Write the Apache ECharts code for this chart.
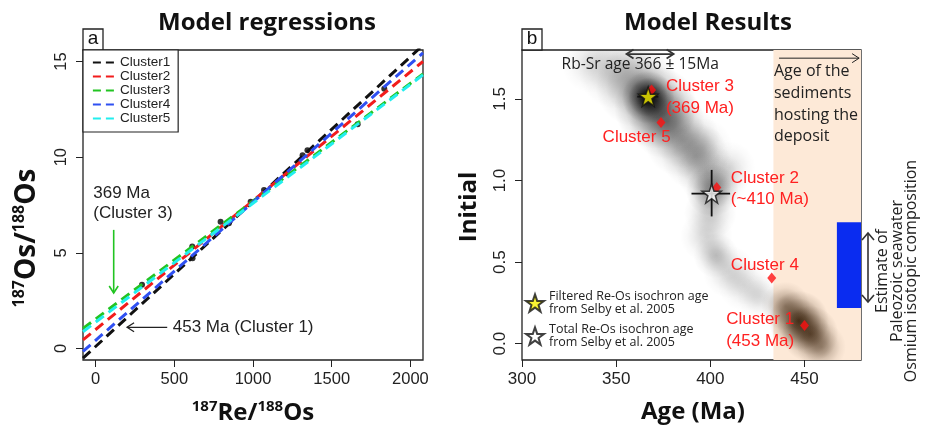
<!DOCTYPE html>
<html>
<head>
<meta charset="utf-8">
<script src="https://cdn.jsdelivr.net/npm/echarts@6/dist/echarts.min.js"></script>
<style>
  html, body { margin: 0; padding: 0; background: #fff; }
  #main { width: 927px; height: 427px; }
</style>
</head>
<body>
<div id="main"></div>
<script>
//---------------数据（图 a）---------------
const clusterNames = ['Cluster1', 'Cluster2', 'Cluster3', 'Cluster4', 'Cluster5']
const clusterColors = ['#111111', '#f21c1c', '#22c422', '#2f50f2', '#22eeee']
// 每条等时线在左右两端的 [Re/Os, Os/Os]
const isoLines = [
  [[-80, -0.5], [2080, 15.85]],
  [[-80, 0.45], [2080, 15.0]],
  [[-80, 1.05], [2080, 14.35]],
  [[-80, -0.15], [2080, 15.45]],
  [[-80, 0.88], [2080, 14.3]]
]
const reOsPoints = [[295, 3.33], [614, 5.33], [616, 4.72], [794, 6.63], [847, 6.55], [985, 7.67],
  [1070, 8.28], [1219, 9.15], [1315, 10.1], [1346, 10.36], [1665, 11.72], [1834, 13.58]]
const xTicksA = [0, 500, 1000, 1500, 2000]
const yTicksA = [0, 5, 10, 15]

//---------------数据（图 b）---------------
const clusterAges = [450, 403.4, 368.8, 432.6, 373.8]
const clusterInitials = [0.112, 0.957, 1.555, 0.402, 1.355]
// [age, initial, ageLo, ageHi, initLo, initHi]
const filteredSelby = [[367, 1.514, 361.2, 372.4, 1.50, 1.53]]
const totalSelby = [[400.7, 0.92, 390, 410.5, 0.78, 1.065]]
const rbSrAge = [355.5, 380.5]
const sedimentAge = [433.5, 480]
const seawaterOs = [0.218, 0.745]
// 密度云 [age, initial, 带宽(Ma), 强度]
const densityGray = [
  [367, 1.51, 14, 0.95], [371, 1.45, 22, 0.55], [361, 1.58, 22, 0.35], [377, 1.36, 20, 0.4],
  [350, 1.67, 20, 0.2], [337, 1.72, 16, 0.12], [385, 1.25, 20, 0.3], [392, 1.15, 18, 0.25],
  [398, 1.05, 16, 0.22], [401, 0.94, 14, 0.45], [410, 1.08, 14, 0.12], [400, 0.80, 14, 0.2],
  [398, 0.66, 14, 0.16], [403, 0.54, 12, 0.25], [410, 0.44, 14, 0.16], [418, 0.36, 14, 0.14],
  [426, 0.29, 12, 0.14], [396, 1.20, 16, 0.14], [406, 1.0, 14, 0.12]
]
const densityBrown = [
  [447, 0.14, 16, 0.85], [453, 0.06, 15, 0.7], [440, 0.23, 13, 0.45], [459, -0.02, 13, 0.4]
]
const xTicksB = [300, 350, 400, 450]
const yTicksB = [0, 0.5, 1, 1.5]

const SANS = '"Liberation Sans", Arial, sans-serif'
const MYRIAD = '"Open Sans", sans-serif'
const STAR = 'path://M50,2 L61.5,36 L97,36 L68.5,57.5 L79,92 L50,71 L21,92 L31.5,57.5 L3,36 L38.5,36 Z'

function blobFill(a, rgb) {
  return {
    type: 'radial', x: 0.5, y: 0.5, r: 0.5,
    colorStops: [
      { offset: 0, color: `rgba(${rgb},${a})` },
      { offset: 0.25, color: `rgba(${rgb},${a * 0.8})` },
      { offset: 0.5, color: `rgba(${rgb},${a * 0.45})` },
      { offset: 0.75, color: `rgba(${rgb},${a * 0.15})` },
      { offset: 1, color: `rgba(${rgb},0)` }
    ]
  }
}
function densitySeries(data, rgb) {
  return {
    type: 'custom', xAxisIndex: 1, yAxisIndex: 1, clip: true, silent: true, z: 2,
    data: data,
    renderItem: (params, api) => {
      const c = api.coord([api.value(0), api.value(1)])
      const r = api.size([api.value(2), 0])[0]
      return { type: 'circle', shape: { cx: c[0], cy: c[1], r: r }, style: { fill: blobFill(api.value(3), rgb) } }
    }
  }
}
// 箭头（像素坐标）
function arrowHead(tip, from, len, half) {
  const dx = tip[0] - from[0], dy = tip[1] - from[1]
  const d = Math.hypot(dx, dy), ux = dx / d, uy = dy / d
  const bx = tip[0] - ux * len, by = tip[1] - uy * len
  return [[bx - uy * half, by + ux * half], tip, [bx + uy * half, by - ux * half]]
}
function arrow(p0, p1, color, width, both) {
  const els = [
    { type: 'line', shape: { x1: p0[0], y1: p0[1], x2: p1[0], y2: p1[1] }, style: { stroke: color, lineWidth: width } },
    { type: 'polyline', shape: { points: arrowHead(p1, p0, 7, 4.5) }, style: { stroke: color, lineWidth: width, fill: null } }
  ]
  if (both) els.push({ type: 'polyline', shape: { points: arrowHead(p0, p1, 7, 4.5) }, style: { stroke: color, lineWidth: width, fill: null } })
  return els
}
function txt(p, text, font, color, align) {
  return { type: 'text', x: p[0], y: p[1], style: { text: text, font: font, fill: color, align: align || 'left', verticalAlign: 'middle' } }
}
function axisCommon(ticks, size, extra, label) {
  return Object.assign({
    axisLine: { show: false, onZero: false }, splitLine: { show: false },
    axisTick: { show: true, inside: false, length: 7, customValues: ticks, lineStyle: { color: '#222' } },
    axisLabel: Object.assign({ customValues: ticks, margin: 11, fontSize: size, color: '#222', formatter: v => String(v) }, label)
  }, extra)
}

let myChart = echarts.init(document.querySelector('#main'))
let option = {
  animation: false,
  textStyle: { fontFamily: SANS },
  grid: [
    { left: 83, top: 50, width: 340, height: 310, show: true, borderColor: '#222', borderWidth: 1.3, backgroundColor: '#fff' },
    { left: 522, top: 50, width: 339, height: 310, show: true, borderColor: '#222', borderWidth: 1.3, backgroundColor: '#fff' }
  ],
  xAxis: [
    axisCommon(xTicksA, 16.5, { type: 'value', gridIndex: 0, min: -80, max: 2080 }),
    axisCommon(xTicksB, 17, { type: 'value', gridIndex: 1, min: 300, max: 480 })
  ],
  yAxis: [
    axisCommon(yTicksA, 16.5, { type: 'value', gridIndex: 0, min: -0.6, max: 15.6 }, { rotate: 90, margin: 13 }),
    axisCommon(yTicksB, 17, { type: 'value', gridIndex: 1, min: -0.1, max: 1.8 }, { rotate: 90, margin: 13, formatter: v => v.toFixed(1) })
  ],
  legend: [
    {
      data: clusterNames, orient: 'vertical', left: 83, top: 50,
      padding: [5.5, 8, 6.5, 9], itemGap: 0, itemWidth: 22, itemHeight: 13,
      borderColor: '#222', borderWidth: 1.2, backgroundColor: '#fff',
      itemStyle: { opacity: 0 },
      lineStyle: { width: 1.8, type: [8, 5] },
      textStyle: { fontFamily: SANS, fontSize: 13.5, color: '#222', lineHeight: 13 },
      selectedMode: false
    },
    {
      data: ['Filtered Re-Os isochron age\nfrom Selby et al. 2005', 'Total Re-Os isochron age\nfrom Selby et al. 2005'],
      orient: 'vertical', left: 525, top: 290, padding: 0, itemGap: 7, itemWidth: 18, itemHeight: 18,
      textStyle: { fontFamily: MYRIAD, fontSize: 12.5, color: '#222', lineHeight: 13 },
      selectedMode: false
    }
  ],
  series: [
    // ---------- 图 a ----------
    {
      type: 'scatter', xAxisIndex: 0, yAxisIndex: 0, data: reOsPoints, symbolSize: 6,
      itemStyle: { color: '#000' }, z: 2, silent: true
    },
    ...clusterNames.map((name, i) => ({
      name: name, type: 'line', xAxisIndex: 0, yAxisIndex: 0, data: isoLines[i],
      symbol: 'none', color: clusterColors[i], z: 3, silent: true,
      lineStyle: { color: clusterColors[i], width: 3, type: [10, 6] }
    })),
    {
      type: 'custom', xAxisIndex: 0, yAxisIndex: 0, data: [0], z: 5, silent: true,
      renderItem: (params, api) => ({
        type: 'group',
        children: [
          txt(api.coord([-15, 8.1]), '369 Ma', '17px ' + SANS, '#222'),
          txt(api.coord([-15, 7.05]), '(Cluster 3)', '17px ' + SANS, '#222'),
          ...arrow(api.coord([115, 6.2]), api.coord([115, 2.9]), '#22c422', 1.6),
          ...arrow(api.coord([455, 1.11]), api.coord([200, 1.11]), '#222', 1.3),
          txt(api.coord([490, 1.11]), '453 Ma (Cluster 1)', '17px ' + SANS, '#222')
        ]
      })
    },
    // ---------- 图 b ----------
    {
      type: 'custom', xAxisIndex: 1, yAxisIndex: 1, data: [sedimentAge], z: 1, silent: true,
      renderItem: (params, api) => {
        const p0 = api.coord([api.value(0), 1.8]), p1 = api.coord([api.value(1), -0.1])
        return { type: 'rect', shape: { x: p0[0], y: p0[1], width: p1[0] - p0[0], height: p1[1] - p0[1] }, style: { fill: '#fde9d7' } }
      }
    },
    densitySeries(densityGray, '0,0,0'),
    densitySeries(densityBrown, '45,22,0'),
    {
      type: 'custom', xAxisIndex: 1, yAxisIndex: 1, data: [[467.2, 480, seawaterOs[0], seawaterOs[1]]], z: 3, silent: true,
      renderItem: (params, api) => {
        const p0 = api.coord([api.value(0), api.value(3)]), p1 = api.coord([api.value(1), api.value(2)])
        return { type: 'rect', shape: { x: p0[0], y: p0[1], width: p1[0] - p0[0], height: p1[1] - p0[1] }, style: { fill: '#0a2cf0' } }
      }
    },
    {
      type: 'scatter', xAxisIndex: 1, yAxisIndex: 1, symbol: 'diamond', symbolSize: [9, 11],
      data: clusterAges.map((a, i) => [a, clusterInitials[i]]), itemStyle: { color: '#ff1010' }, z: 4, silent: true
    },
    {
      type: 'custom', xAxisIndex: 1, yAxisIndex: 1, data: filteredSelby.concat(totalSelby), z: 4, silent: true,
      renderItem: (params, api) => {
        const a = api.value(0), b = api.value(1)
        const h0 = api.coord([api.value(2), b]), h1 = api.coord([api.value(3), b])
        const v0 = api.coord([a, api.value(4)]), v1 = api.coord([a, api.value(5)])
        return {
          type: 'group', children: [
            { type: 'line', shape: { x1: h0[0], y1: h0[1], x2: h1[0], y2: h1[1] }, style: { stroke: '#111', lineWidth: 1.8 } },
            { type: 'line', shape: { x1: v0[0], y1: v0[1], x2: v1[0], y2: v1[1] }, style: { stroke: '#111', lineWidth: 1.8 } }
          ]
        }
      }
    },
    {
      name: 'Filtered Re-Os isochron age\nfrom Selby et al. 2005', type: 'scatter', xAxisIndex: 1, yAxisIndex: 1,
      data: filteredSelby.map(d => [d[0], d[1]]), symbol: STAR, symbolSize: 19, z: 5, silent: true,
      itemStyle: { color: '#f8f000', borderColor: '#111', borderWidth: 1.5 }
    },
    {
      name: 'Total Re-Os isochron age\nfrom Selby et al. 2005', type: 'scatter', xAxisIndex: 1, yAxisIndex: 1,
      data: totalSelby.map(d => [d[0], d[1]]), symbol: STAR, symbolSize: 19, z: 5, silent: true,
      itemStyle: { color: '#ffffff', borderColor: '#111', borderWidth: 1.5 }
    },
    {
      type: 'custom', xAxisIndex: 1, yAxisIndex: 1, data: [0], z: 6, silent: true,
      renderItem: (params, api) => {
        const red = '#ff2020', f = '17px ' + SANS, m = '16px ' + MYRIAD
        return {
          type: 'group',
          children: [
            txt(api.coord([376.4, 1.576]), 'Cluster 3', f, red),
            txt(api.coord([376.4, 1.445]), '(369 Ma)', f, red),
            txt(api.coord([342.8, 1.266]), 'Cluster 5', f, red),
            txt(api.coord([410.9, 1.015]), 'Cluster 2', f, red),
            txt(api.coord([410.9, 0.882]), '(~410 Ma)', f, red),
            txt(api.coord([410.9, 0.479]), 'Cluster 4', f, red),
            txt(api.coord([408.4, 0.147]), 'Cluster 1', f, red),
            txt(api.coord([408.4, 0.014]), '(453 Ma)', f, red),
            ...arrow(api.coord([rbSrAge[0], 1.775]), api.coord([rbSrAge[1], 1.775]), '#333', 1.8, true),
            txt(api.coord([321, 1.708]), 'Rb-Sr age 366 \u00b1 15Ma', '15.6px ' + MYRIAD, '#222'),
            ...arrow(api.coord([436.5, 1.75]), api.coord([479, 1.75]), '#222', 1),
            txt(api.coord([433.8, 1.667]), 'Age of the', m, '#222'),
            txt(api.coord([433.8, 1.531]), 'sediments', m, '#222'),
            txt(api.coord([433.8, 1.398]), 'hosting the', m, '#222'),
            txt(api.coord([433.8, 1.270]), 'deposit', m, '#222')
          ]
        }
      }
    }
  ],
  graphic: [
    { type: 'text', x: 267, y: 23, style: { text: 'Model regressions', font: 'bold 24px ' + MYRIAD, fill: '#111', align: 'center', verticalAlign: 'middle' } },
    { type: 'text', x: 708, y: 23, style: { text: 'Model Results', font: 'bold 24px ' + MYRIAD, fill: '#111', align: 'center', verticalAlign: 'middle' } },
    { type: 'rect', shape: { x: 83, y: 29, width: 20, height: 21 }, style: { fill: '#fff', stroke: '#222', lineWidth: 1.3 } },
    { type: 'text', x: 93, y: 39, style: { text: 'a', font: '19px ' + SANS, fill: '#111', align: 'center', verticalAlign: 'middle' } },
    { type: 'rect', shape: { x: 522, y: 29, width: 20, height: 21 }, style: { fill: '#fff', stroke: '#222', lineWidth: 1.3 } },
    { type: 'text', x: 532, y: 39, style: { text: 'b', font: '19px ' + SANS, fill: '#111', align: 'center', verticalAlign: 'middle' } },
    {
      type: 'text', x: 27, y: 238, rotation: Math.PI / 2,
      style: {
        text: '{s|187}{b|Os/}{s|188}{b|Os}', fill: '#111', align: 'center', verticalAlign: 'middle',
        rich: {
          b: { font: 'bold 28px ' + MYRIAD, lineHeight: 32 },
          s: { font: 'bold 16px ' + MYRIAD, verticalAlign: 'top', lineHeight: 20 }
        }
      }
    },
    {
      type: 'text', x: 253, y: 413,
      style: {
        text: '{s|187}{b|Re/}{s|188}{b|Os}', fill: '#111', align: 'center', verticalAlign: 'middle',
        rich: {
          b: { font: 'bold 24px ' + MYRIAD, lineHeight: 28 },
          s: { font: 'bold 15px ' + MYRIAD, verticalAlign: 'top', lineHeight: 18 }
        }
      }
    },
    { type: 'text', x: 469, y: 207, rotation: Math.PI / 2, style: { text: 'Initial', font: 'bold 24px ' + MYRIAD, fill: '#111', align: 'center', verticalAlign: 'middle' } },
    { type: 'text', x: 693, y: 412, style: { text: 'Age (Ma)', font: 'bold 24px ' + MYRIAD, fill: '#111', align: 'center', verticalAlign: 'middle' } },
    {
      type: 'text', x: 897, y: 271, rotation: Math.PI / 2,
      style: { text: 'Estimate of\nPaleozoic seawater\nOsmium isotopic composition', font: '16px ' + MYRIAD, lineHeight: 14.5, fill: '#222', align: 'center', verticalAlign: 'middle' }
    },
    { type: 'line', shape: { x1: 868, y1: 233, x2: 868, y2: 302 }, style: { stroke: '#333', lineWidth: 1.6 } },
    { type: 'polyline', shape: { points: [[862, 240], [868, 233], [874, 240]] }, style: { stroke: '#333', lineWidth: 1.6, fill: null } },
    { type: 'polyline', shape: { points: [[862, 295], [868, 302], [874, 295]] }, style: { stroke: '#333', lineWidth: 1.6, fill: null } }
  ]
}
myChart.setOption(option)
</script>
</body>
</html>
